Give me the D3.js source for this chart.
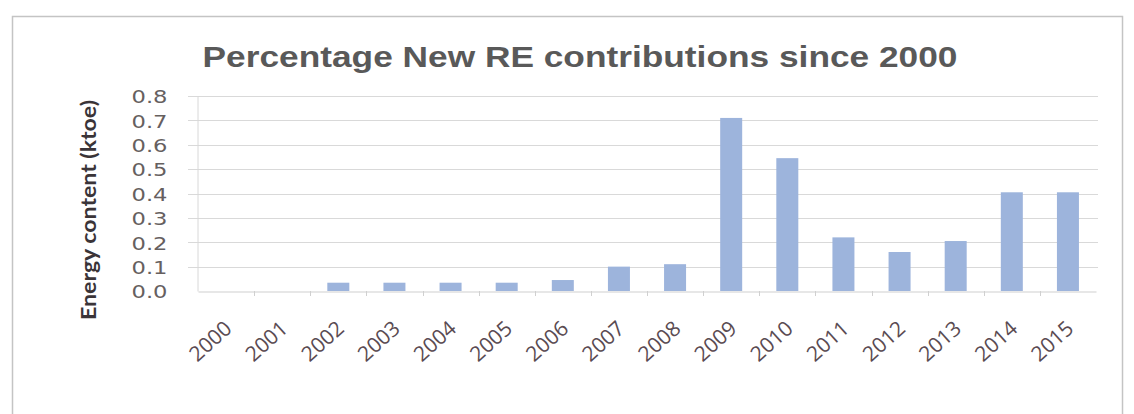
<!DOCTYPE html>
<html><head><meta charset="utf-8">
<script src="https://cdn.jsdelivr.net/npm/d3@7"></script>
<style>body{margin:0;background:#fff}svg{display:block}</style>
</head><body>
<script>
const years = ["2000","2001","2002","2003","2004","2005","2006","2007","2008","2009","2010","2011","2012","2013","2014","2015"];
const values = [0, 0, 0.034, 0.034, 0.034, 0.034, 0.045, 0.10, 0.11, 0.71, 0.545, 0.22, 0.16, 0.205, 0.405, 0.405];
const yTicks = [0, 0.1, 0.2, 0.3, 0.4, 0.5, 0.6, 0.7, 0.8];
const titleText = "Percentage New RE contributions since 2000";
const yTitle = "Energy content (ktoe)";

const W = 1134, H = 414;
const svg = d3.select("body").append("svg").attr("width", W).attr("height", H);

// frame
svg.append("rect").attr("x", 12.5).attr("y", 16.5).attr("width", 1110).attr("height", 420)
  .attr("fill", "none").attr("stroke", "#c4c4c4").attr("stroke-width", 1.5);

const xb = d3.scaleBand().domain(years).range([198, 1096]);
const y = d3.scaleLinear().domain([0, 0.8]).range([291, 96]);

// gridlines
svg.append("g").selectAll("line").data(yTicks.slice(1)).join("line")
  .attr("x1", 188).attr("x2", 1098)
  .attr("y1", d => Math.round(y(d)) + 0.5).attr("y2", d => Math.round(y(d)) + 0.5)
  .attr("stroke", "#d9d9d9").attr("stroke-width", 1);

// y axis
const yAxis = svg.append("g").attr("transform", "translate(197.5,0)")
  .call(d3.axisLeft(y).tickValues(yTicks).tickFormat(d3.format(".1f")).tickSize(0).tickPadding(30));
yAxis.select(".domain").attr("stroke", "#d8d8d8");
yAxis.selectAll("text").attr("font-family", "DejaVu Sans").attr("font-size", 18)
  .attr("fill", "#66605f").attr("dy", "0.38em")
  .attr("textLength", 36).attr("lengthAdjust", "spacingAndGlyphs");

// bars
svg.append("g").selectAll("rect").data(years).join("rect")
  .attr("x", d => xb(d) + (xb.bandwidth() - 22) / 2)
  .attr("width", 22)
  .attr("y", (d, i) => y(values[i]))
  .attr("height", (d, i) => y(0) - y(values[i]))
  .attr("fill", "#9db4dc");

// x axis
const xAxis = svg.append("g").attr("transform", "translate(0,291.5)")
  .call(d3.axisBottom(xb).tickSize(0).tickFormat(d => d));
xAxis.select(".domain").attr("stroke", "#cfcfcf");
xAxis.selectAll(".tick line").remove();
xAxis.selectAll("text")
  .attr("font-family", "Open Sans").attr("font-size", 21).attr("fill", "#5a4b52")
  .attr("text-anchor", "end").attr("dy", 0).attr("y", 0)
  .attr("transform", "translate(7,39) rotate(-42)");
// small tick marks at band boundaries
svg.append("g").selectAll("line").data(years.slice(1)).join("line")
  .attr("x1", d => Math.round(xb(d)) + 0.5).attr("x2", d => Math.round(xb(d)) + 0.5)
  .attr("y1", 291).attr("y2", 296).attr("stroke", "#d0d0d0");

// title
svg.append("text").attr("x", 580).attr("y", 67).attr("text-anchor", "middle")
  .attr("font-family", "Liberation Sans").attr("font-weight", "bold").attr("font-size", 30)
  .attr("fill", "#595959").attr("textLength", 755).attr("lengthAdjust", "spacingAndGlyphs")
  .text(titleText);

// y title
svg.append("text").attr("transform", "translate(96,210) rotate(-90)")
  .attr("text-anchor", "middle").attr("font-family", "Lato").attr("font-weight", "bold")
  .attr("font-size", 20).attr("fill", "#3a3438").attr("textLength", 220)
  .attr("lengthAdjust", "spacingAndGlyphs")
  .text(yTitle);
</script>
</body></html>
